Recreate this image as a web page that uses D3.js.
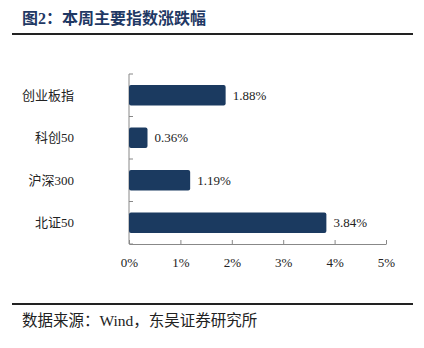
<!DOCTYPE html>
<html>
<head>
<meta charset="utf-8">
<script src="https://cdn.jsdelivr.net/npm/d3@7"></script>
<style>
  html, body { margin: 0; padding: 0; background: #fff; }
  svg { display: block; }
  .serif { font-family: "Liberation Serif", "DejaVu Serif", "Noto Sans CJK SC", serif; }
</style>
</head>
<body>
<svg id="chart" width="424" height="348"></svg>
<script>
// Weekly change of major indices (%)
const categories = ["创业板指", "科创50", "沪深300", "北证50"];
const values = [1.88, 0.36, 1.19, 3.84];
const tickValues = [0, 1, 2, 3, 4, 5];

const svg = d3.select("#chart");
const barColor = "#1b3a60";
const navy = "#1f3864";

// Title
svg.append("text")
  .attr("class", "serif")
  .attr("x", 22).attr("y", 24)
  .attr("font-size", 16).attr("font-weight", "bold")
  .attr("fill", navy)
  .text("图2：本周主要指数涨跌幅");

svg.append("line")
  .attr("x1", 12).attr("x2", 413).attr("y1", 34).attr("y2", 34)
  .attr("stroke", "#222").attr("stroke-width", 2);

// Plot
const x = d3.scaleLinear().domain([0, 5]).range([129, 386]);
const y = d3.scaleBand().domain(categories).range([74, 244]).paddingInner(0.52).paddingOuter(0.26);

const g = svg.append("g");

// X axis
const xAxis = g.append("g")
  .attr("transform", "translate(0,244)")
  .call(d3.axisBottom(x).tickValues(tickValues).tickSize(4).tickSizeOuter(0).tickFormat(d => d + "%").tickPadding(10));
xAxis.attr("font-family", null);
xAxis.select(".domain").attr("stroke", "#888");
xAxis.selectAll(".tick line").attr("stroke", "#888").attr("y1", -4).attr("y2", 0);
xAxis.selectAll(".tick text")
  .attr("class", "serif").attr("font-size", 13).attr("fill", "#222");

// Y axis with category boundary ticks
const yEdges = [74, 116.5, 159, 201.5, 244];
g.append("line")
  .attr("x1", 129).attr("x2", 129).attr("y1", 74).attr("y2", 244)
  .attr("stroke", "#888");
g.selectAll(".ytick").data(yEdges).join("line")
  .attr("x1", 129).attr("x2", 133)
  .attr("y1", d => d).attr("y2", d => d)
  .attr("stroke", "#888");

// Bars
g.selectAll(".bar").data(categories).join("rect")
  .attr("x", x(0))
  .attr("y", (d) => y(d))
  .attr("width", (d, i) => x(values[i]) - x(0))
  .attr("height", y.bandwidth())
  .attr("rx", 2)
  .attr("fill", barColor);

// Value labels
g.selectAll(".val").data(categories).join("text")
  .attr("class", "serif")
  .attr("x", (d, i) => x(values[i]) + 7)
  .attr("y", d => y(d) + y.bandwidth() / 2)
  .attr("dy", "0.35em")
  .attr("font-size", 13).attr("fill", "#222")
  .text((d, i) => values[i].toFixed(2) + "%");

// Category labels
g.selectAll(".cat").data(categories).join("text")
  .attr("class", "serif")
  .attr("x", 74)
  .attr("y", d => y(d) + y.bandwidth() / 2)
  .attr("dy", "0.35em")
  .attr("text-anchor", "end")
  .attr("font-size", 13).attr("fill", "#222")
  .text(d => d);

// Footer
svg.append("line")
  .attr("x1", 12).attr("x2", 413).attr("y1", 304).attr("y2", 304)
  .attr("stroke", "#222").attr("stroke-width", 2);

svg.append("text")
  .attr("class", "serif")
  .attr("x", 22).attr("y", 326)
  .attr("font-size", 15.5).attr("fill", "#222")
  .text("数据来源：Wind，东吴证券研究所");
</script>
</body>
</html>
